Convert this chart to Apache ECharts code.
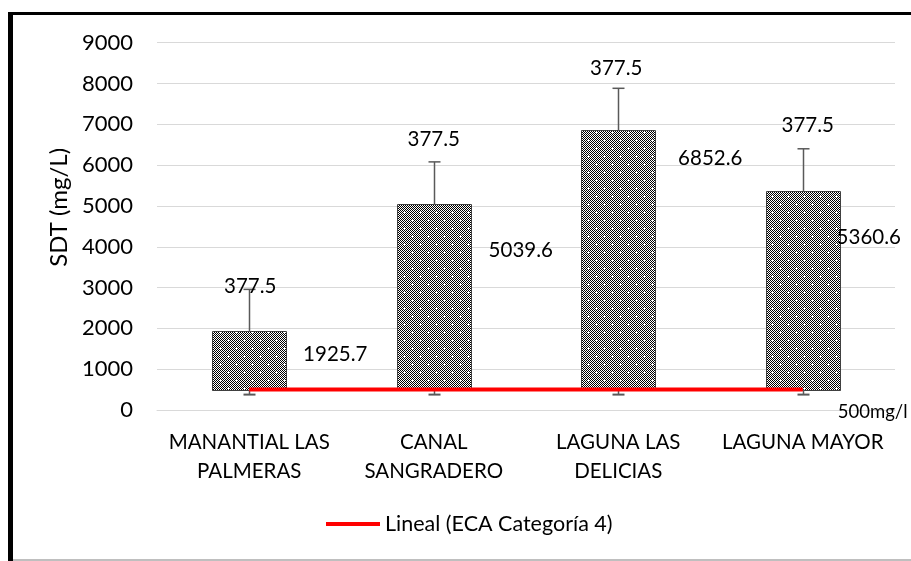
<!DOCTYPE html>
<html><head><meta charset="utf-8">
<script src="https://cdn.jsdelivr.net/npm/echarts@6/dist/echarts.min.js"></script>
<style>html,body{margin:0;padding:0;background:#fff}#c{width:911px;height:561px}</style>
</head><body><div id="c"></div>
<script>
// ---- data ----
const categories = ['MANANTIAL LAS\nPALMERAS', 'CANAL\nSANGRADERO', 'LAGUNA LAS\nDELICIAS', 'LAGUNA MAYOR'];
const sdtValues = [1925.7, 5039.6, 6852.6, 5360.6];
const errorPlus = [1030, 1040, 1030, 1040];
const errorLower = [377.5, 377.5, 377.5, 377.5];
const errorLabels = ['377.5', '377.5', '377.5', '377.5'];
const ecaLimit = [500, 500, 500, 500];
const ecaLabel = '500mg/l';
const yTicks = [0, 1000, 2000, 3000, 4000, 5000, 6000, 7000, 8000, 9000];
const seriesName = 'Lineal (ECA Categoría 4)';

// ---- label placement (style) ----
const valueLabelOffset = [[86, 23], [87, 46], [92, 28], [66, 46]];
const errLabelOffset = [[1, -3], [0, -22], [-2, -20], [5, -23]];

const FONT = 'Lato, "Liberation Sans", sans-serif';

// pattern tile
function makePattern() {
  const c = document.createElement('canvas');
  c.width = 16; c.height = 16;
  const ctx = c.getContext('2d');
  ctx.fillStyle = '#fff'; ctx.fillRect(0, 0, 16, 16);
  ctx.fillStyle = '#000';
  for (let y = 0; y < 16; y++) for (let x = 0; x < 16; x++) if ((x + y) % 2 === 0) ctx.fillRect(x, y, 1, 1);
  ctx.fillStyle = '#fff';
  [[4, 4], [12, 12]].forEach(([cx, cy]) => {
    ctx.fillRect(cx - 1, cy, 3, 1); ctx.fillRect(cx, cy - 1, 1, 3);
  });
  return c;
}
const pattern = { image: makePattern(), repeat: 'repeat' };

const chart = echarts.init(document.getElementById('c'), null, { renderer: 'canvas' });

const option = {
  animation: false,
  backgroundColor: '#fff',
  textStyle: { fontFamily: FONT },
  grid: { left: 157, right: 16, top: 42.7, bottom: 151 },
  xAxis: {
    type: 'category', data: categories,
    axisLine: { lineStyle: { color: '#d9d9d9', width: 1 } },
    axisTick: { show: false },
    axisLabel: { color: '#000', fontSize: 20.5, lineHeight: 29, margin: 18, interval: 0, fontFamily: FONT }
  },
  yAxis: {
    type: 'value', min: yTicks[0], max: yTicks[yTicks.length - 1], interval: yTicks[1] - yTicks[0],
    name: 'SDT (mg/L)', nameLocation: 'middle', nameGap: 83,
    nameTextStyle: { color: '#000', fontSize: 24, fontFamily: FONT, padding: [0, 0, 0, 38] },
    axisLine: { show: false }, axisTick: { show: false },
    axisLabel: { color: '#000', fontSize: 22, margin: 24, fontFamily: FONT, formatter: v => String(v) },
    splitLine: { lineStyle: { color: '#d9d9d9', width: 1 } }
  },
  legend: {
    data: [{ name: seriesName, icon: 'rect' }],
    left: 326, top: 513, padding: 0, itemWidth: 54, itemHeight: 4, itemGap: 4,
    textStyle: { color: '#000', fontSize: 21.5, fontFamily: FONT }
  },
  graphic: [
    { type: 'rect', shape: { x: 8, y: 12, width: 903, height: 3 }, style: { fill: '#000' } },
    { type: 'rect', shape: { x: 8, y: 12, width: 5, height: 549 }, style: { fill: '#000' } },
    { type: 'rect', shape: { x: 13, y: 559, width: 898, height: 2 }, style: { fill: '#bfbfbf' } }
  ],
  series: [
    {
      type: 'custom', name: 'SDT', z: 2,
      data: sdtValues.map((v, i) => [i, ecaLimit[i], v]),
      encode: { x: 0, y: [1, 2] },
      renderItem: function (params, api) {
        const i = api.value(0);
        const b = api.coord([i, api.value(1)]);
        const t = api.coord([i, api.value(2)]);
        const w = api.size([1, 0])[0] * 0.4;
        const x = Math.round(t[0] - w / 2) + 0.5;
        const off = valueLabelOffset[i];
        return {
          type: 'group', children: [
            { type: 'rect', shape: { x: x, y: Math.round(t[1]) + 0.5, width: Math.round(w), height: Math.round(b[1]) - Math.round(t[1]) },
              style: { fill: pattern, stroke: '#404040', lineWidth: 1 } },
            { type: 'text', style: { text: sdtValues[i].toFixed(1), x: t[0] + off[0], y: t[1] + off[1],
              align: 'center', verticalAlign: 'middle', fill: '#000', font: '20.5px ' + FONT } }
          ]
        };
      }
    },
    {
      type: 'custom', name: 'err', z: 3,
      data: sdtValues.map((v, i) => [i, v, v + errorPlus[i], ecaLimit[i], errorLower[i]]),
      encode: { x: 0, y: [1, 2, 3, 4] },
      renderItem: function (params, api) {
        const i = api.value(0);
        const top = api.coord([i, api.value(1)]);
        const hi = api.coord([i, api.value(2)]);
        const base = api.coord([i, api.value(3)]);
        const lo = api.coord([i, api.value(4)]);
        const cx = Math.round(top[0]) + 0.5;
        const st = { stroke: '#595959', lineWidth: 1.5 };
        const off = errLabelOffset[i];
        return {
          type: 'group', children: [
            { type: 'line', shape: { x1: cx, y1: top[1], x2: cx, y2: hi[1] }, style: st },
            { type: 'line', shape: { x1: cx - 6, y1: hi[1], x2: cx + 6, y2: hi[1] }, style: st },
            { type: 'line', shape: { x1: cx, y1: base[1], x2: cx, y2: lo[1] }, style: st },
            { type: 'line', shape: { x1: cx - 6, y1: lo[1], x2: cx + 6, y2: lo[1] }, style: { stroke: '#595959', lineWidth: 2 } },
            { type: 'text', style: { text: errorLabels[i], x: hi[0] + off[0], y: hi[1] + off[1],
              align: 'center', verticalAlign: 'middle', fill: '#000', font: '20.5px ' + FONT } }
          ]
        };
      }
    },
    {
      type: 'line', name: seriesName, z: 5,
      data: ecaLimit,
      symbol: 'none',
      itemStyle: { color: '#ff0000' },
      lineStyle: { color: '#ff0000', width: 4 },
      endLabel: { show: true, formatter: ecaLabel, color: '#000', fontSize: 18.5, fontFamily: FONT, distance: 5, offset: [30, 22] }
    }
  ]
};
chart.setOption(option);
</script>
</body></html>
